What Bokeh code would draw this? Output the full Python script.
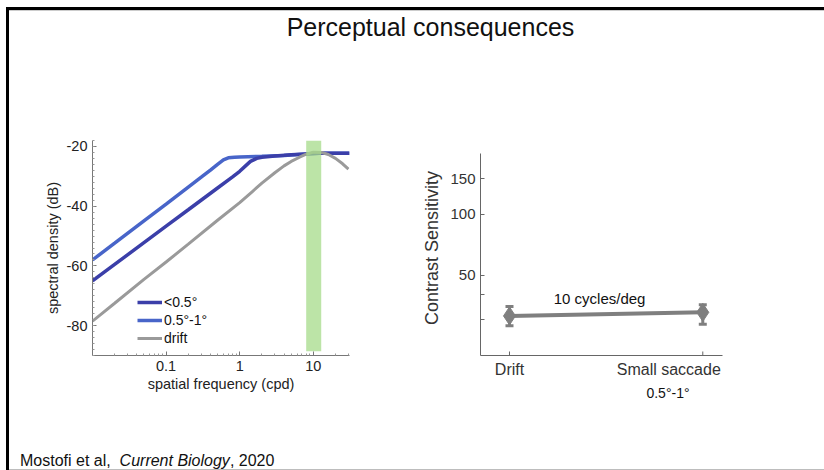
from bokeh.plotting import figure
from bokeh.layouts import column, row
from bokeh.models import (Range1d, FixedTicker, BasicTickFormatter, Legend, Div,
                          Whisker, TeeHead, ColumnDataSource, SingleIntervalTicker,
                          CustomJSTickFormatter, LinearAxis)
from bokeh.core.properties import value
from bokeh.embed import file_html
from bokeh.resources import INLINE

FONT = "Liberation Sans"

# ---------------- data: spectral density (left panel) ----------------
freq_light = [0.01, 0.02, 0.05, 0.1, 0.2, 0.3, 0.4, 0.5, 0.6, 0.7, 0.85, 1, 2, 4, 8, 12, 31]
db_light = [-58.0, -52.4, -44.9, -39.3, -33.6, -30.3, -27.9, -26.0, -24.5, -23.8, -23.6,
            -23.5, -23.3, -23.0, -22.5, -22.3, -22.3]

freq_dark = [0.01, 0.02, 0.05, 0.1, 0.2, 0.5, 0.8, 1, 1.2, 1.4, 1.7, 2, 3, 5, 8, 12, 31]
db_dark = [-65.0, -59.5, -52.2, -46.7, -41.2, -33.9, -30.2, -28.3, -26.5, -25.0, -24.0,
           -23.6, -23.2, -22.8, -22.5, -22.3, -22.3]

freq_drift = [0.01, 0.02, 0.05, 0.1, 0.2, 0.5, 1, 1.5, 2, 3, 4, 5, 6.5, 8, 10, 13, 16, 20, 25, 30]
db_drift = [-78.5, -72.5, -64.5, -58.7, -52.7, -44.7, -38.8, -35.0, -32.3, -28.8, -26.5,
            -25.0, -23.6, -22.6, -21.9, -22.0, -22.7, -24.0, -25.8, -27.6]

band_freq = [8.0, 12.8]
band_db = [-88.6, -18.0]

legend_labels = ["<0.5°", "0.5°-1°", "drift"]
x_tick_vals = [0.1, 1, 10]

# ---------------- data: contrast sensitivity (right panel) ----------------
conditions = ["Drift", "Small saccade"]
condition_sub = "0.5°-1°"
cond_x = [1, 2]
sensitivity = [31.4, 32.7]
sens_lower = [28.1, 28.6]
sens_upper = [35.0, 35.7]
cs_ticks = [30, 40, 50, 100, 150]
cs_tick_labels = ["", "", "50", "100", "150"]
annotation = "10 cycles/deg"

TITLE = "Perceptual consequences"
CITE = ["Mostofi et al,", "Current Biology", ", 2020"]

LIGHT = "#4865c9"
DARK = "#3b3fa9"
GRAY = "#9a9a9a"
GRAY2 = "#7f7f7f"
GREEN = "#a6db8a"
CSS_FONT = "'Liberation Sans', Arial, sans-serif"

# ---------------- header (frame lines + title) ----------------
head_html = (
    '<div style="position:relative;width:824px;height:130px;overflow:hidden;">'
    '<div style="position:absolute;left:6px;top:7px;width:818px;height:3px;background:#000;"></div>'
    '<div style="position:absolute;left:9px;top:10px;width:815px;height:1px;background:#cccccc;"></div>'
    '<div style="position:absolute;left:6px;top:7px;width:3px;height:123px;background:#000;"></div>'
    f'<div style="position:absolute;left:0px;top:11.5px;width:861px;text-align:center;'
    f'font-family:{CSS_FONT};font-size:25px;line-height:30px;color:#111;white-space:nowrap;">'
    f'{TITLE}</div></div>'
)
head = Div(text=head_html, width=824, height=130, margin=0)

strip_html = ('<div style="position:relative;width:9px;height:310px;">'
              '<div style="position:absolute;left:6px;top:0px;width:3px;height:310px;background:#000;"></div></div>')
strip = Div(text=strip_html, width=9, height=310, margin=0)

# ---------------- left panel ----------------
left = figure(width=380, height=310, x_axis_type="log", x_range=Range1d(0.01, 31),
              y_range=Range1d(-90, -18), toolbar_location=None, output_backend="svg",
              min_border_left=83, min_border_right=40, min_border_top=10,
              min_border_bottom=85, outline_line_color=None)
left.grid.visible = False

r_light = left.line(freq_light, db_light, line_color=LIGHT, line_width=3.5)
r_dark = left.line(freq_dark, db_dark, line_color=DARK, line_width=3.5)
r_drift = left.line(freq_drift, db_drift, line_color=GRAY, line_width=3)
left.quad(left=[band_freq[0]], right=[band_freq[1]], bottom=[band_db[0]], top=[band_db[1]],
          fill_color=GREEN, fill_alpha=0.75, line_color=None)

legend = Legend(items=[(legend_labels[0], [r_dark]), (legend_labels[1], [r_light]),
                       (legend_labels[2], [r_drift])],
                location=(45, 8), padding=0, margin=0, spacing=0,
                label_height=18, glyph_height=18, glyph_width=25, label_standoff=2,
                label_text_font=FONT, label_text_font_size="14px",
                label_text_color="#111111", background_fill_alpha=0,
                border_line_color=None)
left.add_layout(legend)

minor_x = [0.02, 0.03, 0.04, 0.05, 0.06, 0.07, 0.08, 0.09,
           0.2, 0.3, 0.4, 0.5, 0.6, 0.7, 0.8, 0.9,
           2, 3, 4, 5, 6, 7, 8, 9, 20, 30]
left.xaxis.ticker = FixedTicker(ticks=x_tick_vals, minor_ticks=minor_x)
left.xaxis.formatter = BasicTickFormatter()
left.yaxis.ticker = SingleIntervalTicker(interval=20, num_minor_ticks=10)
left.yaxis.formatter = CustomJSTickFormatter(code="return tick.toFixed(0);")
for ax in (left.xaxis[0], left.yaxis[0]):
    ax.major_tick_in = 4
    ax.major_tick_out = 0
    ax.minor_tick_in = 2
    ax.minor_tick_out = 0
    ax.axis_line_color = "#777777"
    ax.major_tick_line_color = "#777777"
    ax.minor_tick_line_color = "#999999"
    ax.major_label_text_font = FONT
    ax.major_label_text_font_size = "14.5px"
    ax.major_label_text_color = "#222222"
    ax.axis_label_text_font = FONT
    ax.axis_label_text_font_size = "14.5px"
    ax.axis_label_text_font_style = "normal"
    ax.axis_label_text_color = "#222222"
    ax.major_label_standoff = 5
left.xaxis.axis_label = "spatial frequency (cpd)"
left.xaxis.axis_label_standoff = 2
left.yaxis.axis_label = "spectral density (dB)"
left.yaxis.axis_label_standoff = 3

# ---------------- right panel ----------------
right = figure(width=435, height=310, y_axis_type="log", x_range=Range1d(0.85, 2.102),
               y_range=Range1d(20, 232), toolbar_location=None, output_backend="svg",
               min_border_left=91, min_border_right=102, min_border_top=10,
               min_border_bottom=85, outline_line_color=None)
right.grid.visible = False

src = ColumnDataSource(dict(x=cond_x, y=sensitivity, lower=sens_lower, upper=sens_upper,
                            t0=[20, 20], t1=[20.93, 20.93]))
# inward tick marks at the two condition positions
right.segment(x0="x", y0="t0", x1="x", y1="t1", source=src, line_color="#666666", line_width=1)
right.line("x", "y", source=src, line_color=GRAY2, line_width=4)
right.add_layout(Whisker(base="x", upper="upper", lower="lower", source=src,
                         line_color=GRAY2, line_width=3,
                         upper_head=TeeHead(size=8, line_color=GRAY2, line_width=3),
                         lower_head=TeeHead(size=8, line_color=GRAY2, line_width=3)))
right.scatter("x", "y", source=src, marker="diamond", size=18, color=GRAY2)

right.text(x=[1.466], y=[38.2], text=[annotation], text_font=value(FONT),
           text_font_size="15px", text_align="center", text_baseline="alphabetic",
           text_color="#111111")

# category labels (the saccade label sits left of its tick, as in the slide)
right.xaxis.ticker = FixedTicker(ticks=[1, 1.824])
right.xaxis.formatter = CustomJSTickFormatter(args=dict(names=conditions),
                                              code="return tick < 1.5 ? names[0] : names[1];")
right.xaxis.major_tick_line_color = None
sub_axis = LinearAxis(ticker=FixedTicker(ticks=[1.82]),
                      formatter=CustomJSTickFormatter(args=dict(lab=condition_sub),
                                                      code="return lab;"),
                      axis_line_color=None, major_tick_line_color=None,
                      minor_tick_line_color=None, major_label_standoff=-2,
                      major_label_text_font=FONT, major_label_text_font_size="14px",
                      major_label_text_color="#111111")
right.add_layout(sub_axis, "below")

right.yaxis.ticker = FixedTicker(ticks=cs_ticks)
right.yaxis.formatter = CustomJSTickFormatter(
    args=dict(cs_vals=cs_ticks, cs_labs=cs_tick_labels),
    code="const i = cs_vals.indexOf(Math.round(tick)); return i >= 0 ? cs_labs[i] : '';")
right.yaxis.bounds = (20, 200)
for ax in (right.xaxis[0], right.yaxis[0]):
    ax.major_tick_in = 4
    ax.major_tick_out = 0
    ax.minor_tick_line_color = None
    ax.axis_line_color = "#666666"
    ax.major_label_text_font = FONT
    ax.major_label_text_color = "#333333"
    ax.major_label_standoff = 5
right.yaxis.major_tick_line_color = "#666666"
right.xaxis[0].major_label_text_font_size = "16px"
right.yaxis.major_label_text_font_size = "15px"
right.yaxis.axis_label = "Contrast Sensitivity"
right.yaxis.axis_label_text_font = FONT
right.yaxis.axis_label_text_font_size = "18px"
right.yaxis.axis_label_text_font_style = "normal"
right.yaxis.axis_label_text_color = "#333333"
right.yaxis.axis_label_standoff = 5

# ---------------- footer (frame lines + citation) ----------------
foot_html = (
    '<div style="position:relative;width:824px;height:30px;overflow:hidden;">'
    '<div style="position:absolute;left:6px;top:0px;width:3px;height:30px;background:#000;"></div>'
    '<div style="position:absolute;left:9px;top:28.5px;width:815px;height:1.5px;background:#bdbdbd;"></div>'
    f'<div style="position:absolute;left:20px;top:11px;font-family:{CSS_FONT};font-size:16px;'
    f'line-height:20px;color:#111;white-space:nowrap;">'
    f'{CITE[0]}&nbsp; <i>{CITE[1]}</i>{CITE[2]}</div></div>'
)
foot = Div(text=foot_html, width=824, height=30, margin=0)

page = column(head, row(strip, left, right), foot)

open("out.html", "w").write(file_html(page, INLINE))
